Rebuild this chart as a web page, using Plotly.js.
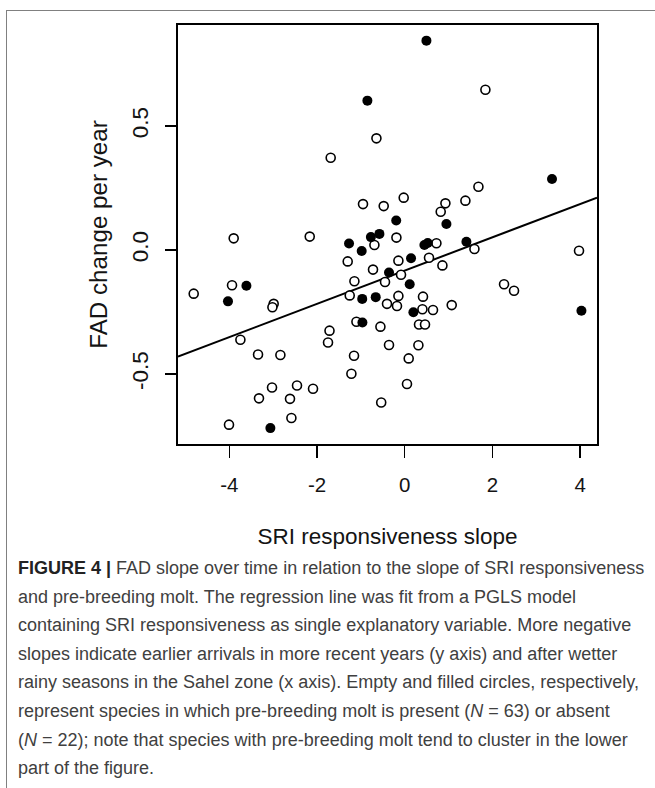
<!DOCTYPE html>
<html><head><meta charset="utf-8">
<script src="https://cdn.plot.ly/plotly-3.0.1.min.js"></script>
<style>
html,body{margin:0;padding:0;background:#fff;width:655px;height:788px;overflow:hidden;}
#frame{position:absolute;left:6px;top:10px;width:700px;height:800px;border-top:1px solid #808080;border-left:1px solid #808080;}
#chart{position:absolute;left:0;top:0;width:655px;height:788px;}
#caption{position:absolute;left:18px;top:554px;font-family:"Liberation Sans",Arial,sans-serif;font-size:18px;line-height:28.6px;color:#404040;white-space:nowrap;}
#caption b{color:#222;}
</style></head>
<body>
<div id="frame"></div>
<div id="chart"></div>
<div id="caption">
<b>FIGURE 4 |</b> FAD slope over time in relation to the slope of SRI responsiveness<br>
and pre-breeding molt. The regression line was fit from a PGLS model<br>
containing SRI responsiveness as single explanatory variable. More negative<br>
slopes indicate earlier arrivals in more recent years (y axis) and after wetter<br>
rainy seasons in the Sahel zone (x axis). Empty and filled circles, respectively,<br>
represent species in which pre-breeding molt is present (<i>N</i> = 63) or absent<br>
(<i>N</i> = 22); note that species with pre-breeding molt tend to cluster in the lower<br>
part of the figure.
</div>
<script>
// Species with pre-breeding molt present (empty circles)
const openX = [-0.645,-1.688,1.840,-0.951,-0.479,-0.023,0.928,0.821,1.384,1.681,
  -0.189,-0.691,0.723,1.590,-1.300,-0.144,0.554,0.860,-0.723,-0.084,
  -1.147,-0.449,-1.254,-0.144,0.417,-0.404,-0.176,0.404,0.645,1.072,
  -1.101,-0.554,0.326,0.463,-0.358,0.312,-1.715,-1.749,-3.900,-2.166,
  -3.938,-4.812,-2.988,-3.017,-3.747,-3.345,-2.835,-1.156,-1.216,-3.026,
  -2.456,-2.091,-3.323,-2.616,-2.584,-4.007,-0.536,3.975,2.265,2.493,
  0.091,0.052];
const openY = [0.450,0.372,0.646,0.185,0.177,0.211,0.188,0.154,0.199,0.255,
  0.050,0.020,0.027,0.004,-0.046,-0.043,-0.031,-0.062,-0.079,-0.100,
  -0.126,-0.129,-0.183,-0.185,-0.188,-0.217,-0.226,-0.239,-0.242,-0.222,
  -0.289,-0.309,-0.300,-0.300,-0.383,-0.384,-0.325,-0.373,0.047,0.054,
  -0.142,-0.176,-0.217,-0.231,-0.362,-0.421,-0.423,-0.426,-0.499,-0.554,
  -0.546,-0.559,-0.598,-0.600,-0.677,-0.704,-0.615,-0.003,-0.138,-0.164,
  -0.437,-0.540];
// Species with pre-breeding molt absent (filled circles)
const filledX = [0.495,-0.851,3.359,4.030,-3.610,-4.030,-3.063,-0.194,0.951,-1.270,
  -0.981,-0.771,-0.577,0.449,0.525,1.407,0.144,-0.358,0.114,-0.969,
  -0.661,0.198,-0.965];
const filledY = [0.844,0.602,0.286,-0.245,-0.144,-0.207,-0.718,0.119,0.105,0.026,
  -0.004,0.052,0.065,0.020,0.028,0.033,-0.033,-0.091,-0.138,-0.197,
  -0.190,-0.251,-0.292];
// PGLS regression line
const regIntercept = -0.083;
const regSlope = 0.0671;
// Axes
const xTickVals = [-4,-2,0,2,4];
const xTickText = ["-4","-2","0","2","4"];
const yTickVals = [-0.5,0,0.5];
const yTickText = ["-0.5","0.0","0.5"];
const xRange = [-5.17,4.385];
const yRange = [-0.782,0.907];

const lineX = xRange.slice();
const lineY = lineX.map(x => regIntercept + regSlope * x);

const fam = '"Liberation Sans", Arial, sans-serif';
const txt = '#141414';

const traces = [
  {x:lineX, y:lineY, type:'scatter', mode:'lines', line:{color:'#000', width:2}, hoverinfo:'skip'},
  {x:openX, y:openY, type:'scatter', mode:'markers',
   marker:{symbol:'circle', size:9, color:'#fff', line:{color:'#000', width:1.6}}},
  {x:filledX, y:filledY, type:'scatter', mode:'markers',
   marker:{symbol:'circle', size:10, color:'#000', line:{color:'#000', width:0}}}
];

const layout = {
  width:655, height:788,
  margin:{l:178, r:58, t:25, b:344, autoexpand:false},
  paper_bgcolor:'rgba(0,0,0,0)', plot_bgcolor:'#fff',
  showlegend:false,
  font:{family:fam, size:20, color:txt},
  xaxis:{range:xRange, tickvals:xTickVals, ticktext:xTickText, ticks:'outside', ticklen:12, tickwidth:1.5, tickcolor:'#000',
    showline:true, mirror:true, linecolor:'#000', linewidth:2, showgrid:false, zeroline:false,
    ticklabelstandoff:9, tickfont:{family:fam, size:20.5, color:txt},
    title:{text:'SRI responsiveness slope', font:{family:fam, size:22.5, color:txt}, standoff:34}, automargin:false},
  yaxis:{range:yRange, tickvals:yTickVals, ticktext:yTickText, ticks:'outside', ticklen:11, tickwidth:1.5, tickcolor:'#000',
    showline:true, mirror:true, linecolor:'#000', linewidth:2, showgrid:false, zeroline:false,
    tickangle:-90, ticklabelstandoff:8, tickfont:{family:fam, size:22.5, color:txt},
    title:{text:'FAD change per year', font:{family:fam, size:24.2, color:txt}, standoff:14}, automargin:false}
};

Plotly.newPlot('chart', traces, layout, {displayModeBar:false, staticPlot:true});
</script>
</body></html>
